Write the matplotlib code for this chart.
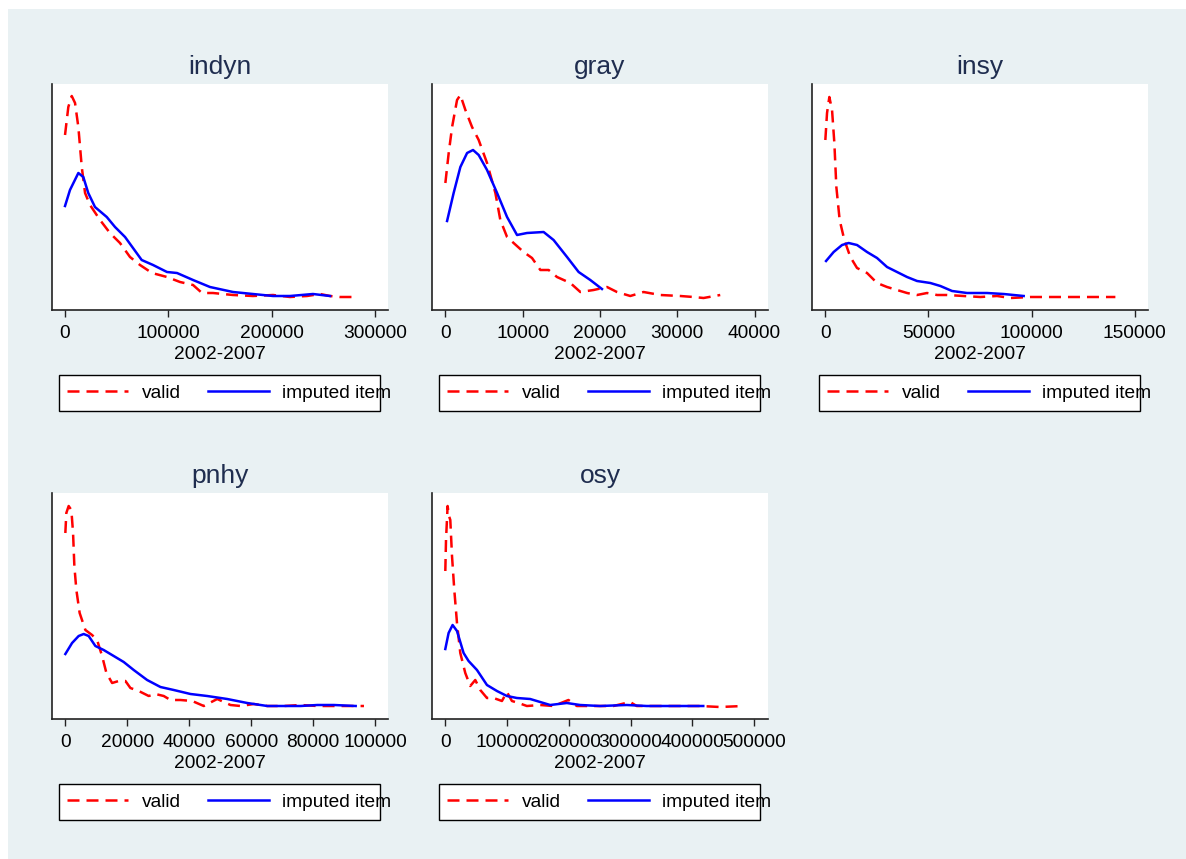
import matplotlib
matplotlib.use("Agg")
import matplotlib.pyplot as plt
from matplotlib.patches import Rectangle

plt.rcParams['font.family'] = ['Liberation Sans', 'DejaVu Sans']

# ---------------- data (kernel density estimates, arbitrary density units) ----------------
titles = ["indyn", "gray", "insy", "pnhy", "osy"]
xlabel = "2002-2007"
series_names = ["valid", "imputed item"]

indyn_valid_x = [0, 3200, 6500, 9700, 12900, 16200, 19400, 24200, 33900, 43500, 53200, 62900, 72600,
                 84200, 98700, 111300, 123900, 132600, 143200, 162600, 181900, 201300, 217700, 234200,
                 246800, 256500, 266100, 280600]
indyn_valid_y = [175, 203, 214, 207, 183, 143, 117, 105, 90, 77, 67, 53, 45, 37, 33, 28, 25, 17, 17, 15,
                 14, 15, 13, 14, 16, 14, 13, 13]
indyn_imp_x = [0, 4800, 12900, 17700, 22500, 29000, 40400, 48400, 58100, 65800, 74200, 85200, 98700,
               108400, 123900, 140300, 162600, 181900, 201300, 217700, 240000, 256500]
indyn_imp_y = [104, 120, 137, 133, 117, 103, 93, 83, 73, 62, 50, 45, 38, 37, 30, 23, 18, 16, 14, 14, 16, 14]

gray_valid_x = [0, 430, 870, 1510, 1940, 2590, 3450, 4310, 5390, 6470, 7110, 7980, 8830, 10120, 11210,
                12290, 13360, 14440, 16170, 17460, 19180, 20910, 22200, 23920, 25640, 27800, 30390,
                32100, 33400, 35560]
gray_valid_y = [127, 157, 183, 210, 215, 200, 183, 170, 147, 117, 90, 73, 67, 58, 52, 40, 40, 33, 27, 18,
                20, 23, 18, 14, 18, 15, 14, 13, 12, 15]
gray_imp_x = [220, 1070, 1940, 2810, 3580, 4310, 5390, 6690, 7980, 9270, 10560, 12710, 14000, 15740,
              17240, 18750, 20260]
gray_imp_y = [89, 117, 143, 157, 160, 155, 140, 117, 93, 75, 77, 78, 70, 53, 38, 30, 21]

insy_valid_x = [0, 820, 1940, 3250, 4370, 5340, 6940, 9220, 12130, 15370, 20220, 25070, 29920, 34770,
                39620, 44470, 49320, 54170, 59020, 67080, 75180, 83270, 89730, 99430, 115430, 140650]
insy_valid_y = [170, 197, 213, 200, 167, 123, 90, 70, 53, 42, 37, 27, 23, 20, 17, 15, 17, 15, 15, 14, 13,
                14, 12, 13, 13, 13]
insy_imp_x = [340, 4030, 8100, 11300, 15370, 20220, 25070, 29920, 34770, 39620, 44470, 50920, 55780,
              61450, 68720, 78420, 86480, 96180]
insy_imp_y = [49, 58, 65, 67, 65, 58, 52, 43, 38, 33, 29, 27, 24, 19, 17, 17, 16, 14]

pnhy_valid_x = [0, 320, 1070, 1940, 2490, 2910, 3560, 4620, 6470, 8630, 10250, 11870, 13260, 15100,
                17230, 19400, 21010, 23700, 26930, 29100, 31780, 33950, 37180, 40960, 44710, 49040,
                53340, 56580, 60880, 65210, 70580, 75980, 81370, 86740, 92140, 96440]
pnhy_valid_y = [186, 206, 213, 209, 186, 153, 129, 106, 89, 84, 79, 63, 46, 36, 38, 38, 31, 28, 23, 25,
                23, 19, 19, 18, 13, 20, 14, 13, 15, 13, 13, 14, 13, 13, 13, 13]
pnhy_imp_x = [0, 2170, 4300, 5920, 7530, 9700, 12380, 15620, 18850, 22080, 26410, 30710, 35010, 40410,
              45810, 52280, 58740, 65210, 70580, 75980, 81370, 86740, 93760]
pnhy_imp_y = [65, 76, 83, 85, 83, 73, 69, 63, 57, 49, 39, 32, 29, 25, 23, 20, 16, 13, 13, 13, 14, 14, 13]

osy_valid_x = [0, 1130, 3720, 5980, 8080, 10830, 14550, 18910, 24250, 32330, 40410, 48500, 56580, 67410,
               78080, 91660, 99740, 107830, 118490, 132080, 153580, 175080, 199330, 212910, 239740,
               272070, 299070, 309900, 347620, 385240, 412250, 444580, 482240]
osy_valid_y = [148, 179, 213, 203, 199, 163, 129, 96, 66, 46, 33, 39, 29, 21, 21, 18, 27, 18, 16, 13, 14,
               13, 19, 13, 13, 13, 17, 13, 13, 13, 13, 12, 13]
osy_imp_x = [0, 5330, 11800, 18910, 29580, 37670, 51250, 67410, 83580, 99740, 115910, 137410, 153580,
             169750, 196740, 218240, 250570, 293740, 326070, 358400, 417570]
osy_imp_y = [70, 86, 94, 88, 66, 58, 49, 34, 28, 23, 21, 20, 17, 14, 16, 14, 13, 14, 13, 13, 13]

xticks_list = [
    [0, 100000, 200000, 300000],
    [0, 10000, 20000, 30000, 40000],
    [0, 50000, 100000, 150000],
    [0, 20000, 40000, 60000, 80000, 100000],
    [0, 100000, 200000, 300000, 400000, 500000],
]
xlims = [(-12600, 312600), (-1730, 41740), (-6470, 156470), (-4310, 104200), (-21550, 522400)]

panels = [
    (indyn_valid_x, indyn_valid_y, indyn_imp_x, indyn_imp_y),
    (gray_valid_x, gray_valid_y, gray_imp_x, gray_imp_y),
    (insy_valid_x, insy_valid_y, insy_imp_x, insy_imp_y),
    (pnhy_valid_x, pnhy_valid_y, pnhy_imp_x, pnhy_imp_y),
    (osy_valid_x, osy_valid_y, osy_imp_x, osy_imp_y),
]

# ---------------- styling / layout ----------------
W, H = 1186, 859
BG = "#E9F1F3"
TITLE_C = "#1F2D4F"
RED = "#FF0000"
BLUE = "#0000FF"
LW = 1.8
dash = (0, (4.8, 2.8))
FS = 13.8

fig = plt.figure(figsize=(W / 100, H / 100), dpi=100)
fig.patch.set_facecolor("white")
fig.patches.append(Rectangle((8 / W, 0), 1 - 8 / W, 1 - 9 / H, transform=fig.transFigure,
                             facecolor=BG, edgecolor="none", zorder=-10))

lefts = [52, 432, 812, 52, 432]
tops = [84, 84, 84, 493, 493]
aw, ah = 336, 226

for i, (vx, vy, ix, iy) in enumerate(panels):
    l, t = lefts[i], tops[i]
    ax = fig.add_axes([l / W, 1 - (t + ah) / H, aw / W, ah / H])
    ax.set_facecolor("white")
    ax.plot(vx, vy, color=RED, lw=LW, linestyle=dash, label=series_names[0])
    ax.plot(ix, iy, color=BLUE, lw=LW, label=series_names[1])
    ax.set_xlim(*xlims[i])
    ax.set_ylim(0, 226)
    ax.set_xticks(xticks_list[i])
    ax.set_xticklabels([str(v) for v in xticks_list[i]])
    ax.set_yticks([])
    for s in ["top", "right"]:
        ax.spines[s].set_visible(False)
    for s in ["left", "bottom"]:
        ax.spines[s].set_color("#222222")
        ax.spines[s].set_linewidth(1.2)
    ax.tick_params(axis="x", length=5, width=1.0, color="#222222", labelsize=FS, pad=6,
                   labelcolor="black")
    ax.set_xlabel(xlabel, fontsize=FS, labelpad=3, color="black")
    ax.set_title(titles[i], fontsize=19, color=TITLE_C, pad=7)
    # legend box (Stata draws the frame narrower than its contents)
    ax.add_patch(Rectangle((7 / aw, -101 / ah), 321 / aw, 36 / ah, transform=ax.transAxes,
                           facecolor="white", edgecolor="black", lw=1.0, clip_on=False, zorder=4))
    leg = ax.legend(loc="center left", bbox_to_anchor=(15 / aw, -83 / ah),
                    ncol=2, fontsize=FS, frameon=False,
                    handlelength=3.2, handletextpad=0.7, columnspacing=1.4,
                    borderpad=0, borderaxespad=0)
    leg.set_zorder(6)

fig.savefig("out.png", dpi=100, facecolor=fig.get_facecolor())
